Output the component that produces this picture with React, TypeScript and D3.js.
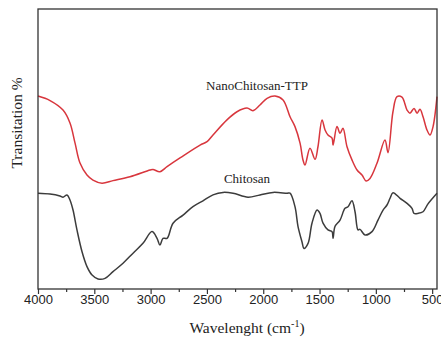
import { useEffect, useRef } from "react";
import * as d3 from "d3";

// wavenumbers (cm-1) and transmittance readings (arbitrary %)
const nanoWave = [
  4000, 3893, 3778, 3716, 3671, 3627, 3565, 3512, 3432, 3334, 3183, 3005, 2979, 2917, 2854, 2739,
  2561, 2499, 2446, 2322, 2233, 2144, 2091, 2029, 1966, 1895, 1824, 1762, 1718, 1673, 1647, 1629,
  1585, 1540, 1514, 1478, 1451, 1425, 1389, 1380, 1345, 1318, 1292, 1256, 1212, 1167, 1123, 1087,
  1052, 990, 919, 892, 848, 812, 768, 723, 697, 661, 634, 608, 581, 546, 519, 492, 457,
];
const nanoT = [
  68.9, 67.3, 63.9, 59.3, 52.1, 45.0, 40.7, 38.9, 37.8, 38.7, 40.1, 42.5, 42.7, 41.9, 43.7, 46.8,
  51.4, 52.6, 55.0, 60.4, 63.3, 64.6, 63.7, 65.7, 68.1, 68.9, 67.5, 61.5, 58.0, 52.1, 46.1, 44.3,
  50.3, 46.3, 50.8, 60.4, 56.8, 55.0, 53.9, 51.4, 58.0, 55.6, 57.4, 50.8, 46.1, 42.5, 40.7, 38.6,
  39.5, 44.9, 53.2, 48.7, 63.3, 68.7, 68.5, 63.9, 62.8, 64.5, 62.8, 64.2, 61.5, 56.8, 55.0, 58.0, 68.7,
];

const chitoWave = [
  4000, 3893, 3805, 3778, 3742, 3716, 3689, 3654, 3609, 3565, 3520, 3467, 3405, 3334, 3245, 3156,
  3068, 2988, 2943, 2917, 2890, 2854, 2801, 2712, 2624, 2535, 2446, 2357, 2268, 2135, 2029, 1913,
  1789, 1762, 1718, 1691, 1656, 1638, 1602, 1567, 1522, 1496, 1469, 1425, 1389, 1380, 1363, 1318,
  1274, 1247, 1212, 1185, 1158, 1141, 1096, 1034, 981, 936, 901, 874, 848, 785, 723, 679, 661, 626,
  581, 537, 457,
];
const chitoT = [
  34.2, 33.9, 33.2, 32.8, 33.6, 31.8, 28.2, 21.1, 13.3, 8.0, 5.0, 3.6, 3.8, 6.2, 9.2, 12.8,
  16.3, 20.5, 18.1, 15.7, 18.1, 18.1, 23.5, 26.4, 29.4, 31.5, 33.6, 34.5, 34.2, 32.8, 33.6, 34.5,
  34.2, 34.2, 29.4, 22.3, 16.9, 14.5, 16.3, 23.5, 28.2, 27.0, 23.5, 21.1, 20.5, 18.1, 22.3, 24.6,
  28.8, 29.4, 31.5, 27.6, 21.1, 21.3, 19.3, 20.5, 24.6, 28.2, 30.0, 32.4, 34.4, 32.4, 30.6, 28.8, 27.0, 27.0,
  27.6, 30.4, 34.2,
];

const majorTicks = [4000, 3500, 3000, 2500, 2000, 1500, 1000, 500];
const minorTicks = [3750, 3250, 2750, 2250, 1750, 1250, 750];

const App = () => {
  const ref = useRef<HTMLDivElement | null>(null);

  function chartRender(svg: any) {
    const width = 441;
    const height = 337;
    const left = 38;
    const right = 437;
    const top = 9;
    const bottom = 289;

    svg.attr("width", width).attr("height", height);

    const x = d3.scaleLinear().domain([4000, 457]).range([left, right]);
    const y = d3.scaleLinear().domain([0, 100]).range([bottom, top]);

    const line = d3
      .line<[number, number]>()
      .x((d) => x(d[0]))
      .y((d) => y(d[1]))
      .curve(d3.curveCatmullRom.alpha(0.5));

    const nano = nanoWave.map((w, i) => [w, nanoT[i]] as [number, number]);
    const chito = chitoWave.map((w, i) => [w, chitoT[i]] as [number, number]);

    svg
      .append("path")
      .attr("d", line(nano))
      .attr("fill", "none")
      .attr("stroke", "#d8363d")
      .attr("stroke-width", 1.5);

    svg
      .append("path")
      .attr("d", line(chito))
      .attr("fill", "none")
      .attr("stroke", "#3c3c3c")
      .attr("stroke-width", 1.5);

    // frame
    svg
      .append("rect")
      .attr("x", left)
      .attr("y", top)
      .attr("width", right - left)
      .attr("height", bottom - top)
      .attr("fill", "none")
      .attr("stroke", "#333")
      .attr("stroke-width", 1.3);

    // bottom axis
    const xAxis = d3
      .axisBottom(x)
      .tickValues(majorTicks)
      .tickSize(5)
      .tickFormat((d: any) => String(d));
    const gx = svg.append("g").attr("transform", `translate(0, ${bottom})`).call(xAxis);
    gx.select(".domain").remove();
    gx.selectAll("line").attr("stroke", "#333").attr("stroke-width", 1.2);
    gx.selectAll("text")
      .attr("font-family", "Liberation Sans, Arial, sans-serif")
      .attr("font-size", 13)
      .attr("fill", "#222")
      .attr("dy", "0.8em")
      .attr("y", 5);

    const minorAxis = d3.axisBottom(x).tickValues(minorTicks).tickSize(3).tickFormat(() => "");
    const gm = svg.append("g").attr("transform", `translate(0, ${bottom})`).call(minorAxis);
    gm.select(".domain").remove();
    gm.selectAll("line").attr("stroke", "#333").attr("stroke-width", 1.2);

    // series labels
    svg
      .append("text")
      .attr("x", 257)
      .attr("y", 90)
      .attr("text-anchor", "middle")
      .attr("font-family", "Liberation Serif, Times New Roman, serif")
      .attr("font-size", 13)
      .attr("fill", "#222")
      .text("NanoChitosan-TTP");

    svg
      .append("text")
      .attr("x", 247)
      .attr("y", 183)
      .attr("text-anchor", "middle")
      .attr("font-family", "Liberation Serif, Times New Roman, serif")
      .attr("font-size", 13)
      .attr("fill", "#222")
      .text("Chitosan");

    // axis titles
    svg
      .append("text")
      .attr("transform", "translate(22, 123) rotate(-90)")
      .attr("text-anchor", "middle")
      .attr("font-family", "Liberation Serif, Times New Roman, serif")
      .attr("font-size", 15.5)
      .attr("fill", "#222")
      .text("Transitation %");

    const xt = svg
      .append("text")
      .attr("x", 247)
      .attr("y", 333)
      .attr("text-anchor", "middle")
      .attr("font-family", "Liberation Serif, Times New Roman, serif")
      .attr("font-size", 15.5)
      .attr("fill", "#222");
    xt.append("tspan").text("Wavelenght (cm");
    xt.append("tspan").attr("font-size", 10).attr("dy", -6).text("-1");
    xt.append("tspan").attr("dy", 6).text(")");
  }

  useEffect(() => {
    if (ref.current) {
      const svg = d3.select(ref.current).append("svg");
      chartRender(svg);
      return () => {
        svg.remove();
      };
    }
  }, []);

  return <div ref={ref} style={{ position: "absolute", left: 0, top: 0 }}></div>;
};

export default App;
